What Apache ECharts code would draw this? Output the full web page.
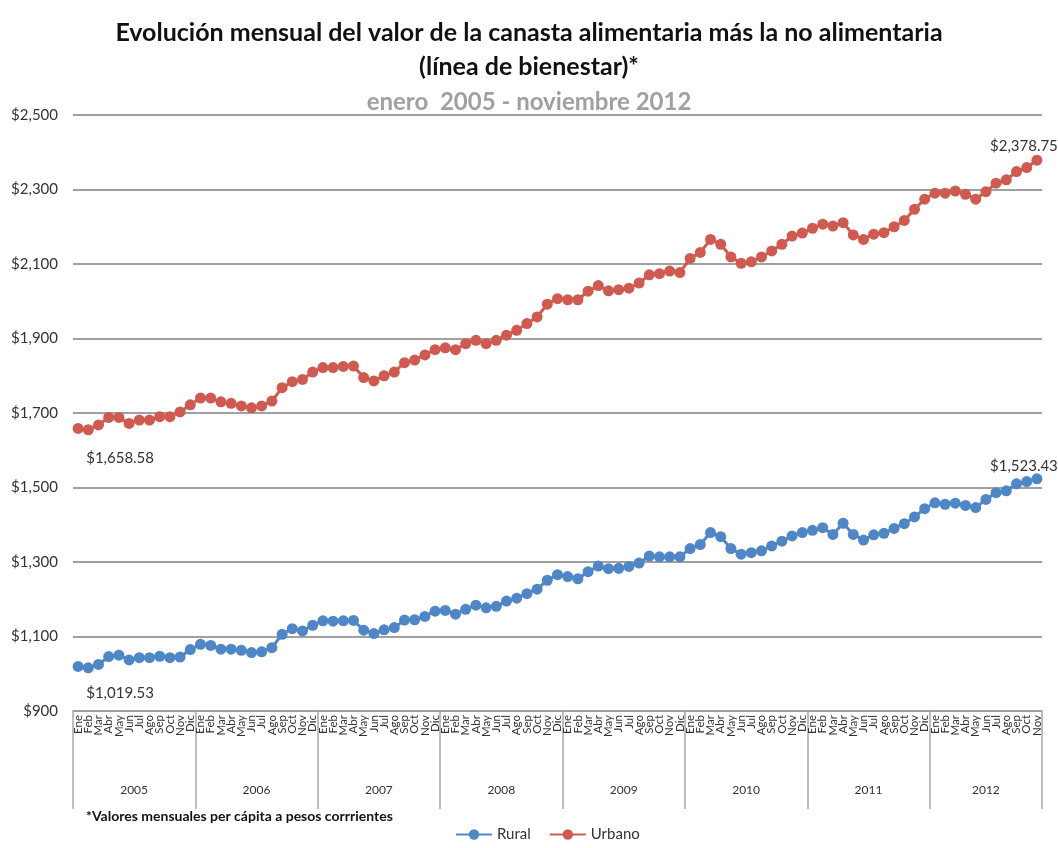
<!DOCTYPE html>
<html>
<head>
<meta charset="utf-8">
<script src="https://cdn.jsdelivr.net/npm/echarts@6/dist/echarts.min.js"></script>
<style>
  html, body { margin: 0; padding: 0; background: #fff; }
  #main { width: 1058px; height: 848px; }
</style>
</head>
<body>
<div id="main"></div>
<script>
var months = ["Ene", "Feb", "Mar", "Abr", "May", "Jun", "Jul", "Ago", "Sep", "Oct", "Nov", "Dic"];
var years = ["2005", "2006", "2007", "2008", "2009", "2010", "2011", "2012"];

var rural = [
  1019.53, 1016, 1025, 1046, 1050, 1037, 1043, 1043, 1047, 1043, 1045, 1065,
  1079, 1076, 1066, 1066, 1063, 1057, 1059, 1070, 1106, 1121, 1115, 1130,
  1142, 1141, 1142, 1143, 1117, 1108, 1118, 1124, 1144, 1145, 1154, 1168,
  1170, 1160, 1173, 1184, 1177, 1181, 1195, 1203, 1215, 1227, 1251, 1266,
  1261, 1255, 1274, 1289, 1282, 1283, 1288, 1297, 1316, 1314, 1314, 1314,
  1336, 1347, 1379, 1368, 1336, 1321, 1325, 1330, 1343, 1356, 1370, 1379,
  1385, 1392, 1374, 1404, 1374, 1359, 1373, 1377, 1390, 1403, 1421, 1443,
  1459, 1455, 1458, 1452, 1446, 1468, 1486, 1491, 1510, 1516, 1523.43
];

var urbano = [
  1658.58, 1655, 1668, 1688, 1688, 1672, 1681, 1681, 1690, 1690, 1703, 1722,
  1740, 1740, 1730, 1726, 1719, 1714, 1719, 1732, 1768, 1784, 1790, 1810,
  1822, 1822, 1825, 1826, 1795, 1786, 1800, 1810, 1835, 1842, 1856, 1870,
  1875, 1870, 1886, 1895, 1886, 1895, 1909, 1922, 1940, 1958, 1992, 2007,
  2004, 2004, 2027, 2042, 2028, 2031, 2035, 2049, 2071, 2074, 2081, 2077,
  2115, 2131, 2166, 2153, 2119, 2102, 2106, 2119, 2135, 2153, 2175, 2183,
  2196, 2207, 2202, 2211, 2178, 2166, 2180, 2184, 2200, 2217, 2247, 2274,
  2290, 2290, 2296, 2287, 2274, 2294, 2317, 2326, 2348, 2359, 2378.75
];

var FONT = "Lato";
var monthCats = [];
var yearCats = [];
for (var i = 0; i < rural.length; i++) {
  monthCats.push(months[i % 12]);
  yearCats.push(years[Math.floor(i / 12)]);
}

function money(v, dec) {
  return "$" + v.toLocaleString("en-US", { minimumFractionDigits: dec, maximumFractionDigits: dec });
}

// first and last point get a value label
function withEndLabels(values, firstOffset, lastOffset) {
  var last = values.length - 1;
  return values.map(function (v, i) {
    if (i === 0) {
      return { value: v, label: { show: true, position: "bottom", offset: firstOffset } };
    }
    if (i === last) {
      return { value: v, label: { show: true, position: "top", offset: lastOffset } };
    }
    return v;
  });
}

var myChart = echarts.init(document.getElementById("main"));

var labelStyle = {
  fontFamily: FONT,
  fontSize: 15,
  color: "#333",
  formatter: function (p) { return money(p.value, 2); }
};

var option = {
  backgroundColor: "#fff",
  animation: false,
  title: {
    text: "Evolución mensual del valor de la canasta alimentaria más la no alimentaria\n(línea de bienestar)*",
    subtext: "enero  2005 - noviembre 2012",
    left: "center",
    top: 11,
    itemGap: 5,
    textStyle: { fontFamily: FONT, fontSize: 25, fontWeight: "bold", color: "#111", lineHeight: 34 },
    subtextStyle: { fontFamily: FONT, fontSize: 24, fontWeight: "bold", color: "#a0a0a0", lineHeight: 26 }
  },
  legend: {
    bottom: 1,
    left: 450,
    itemWidth: 36,
    itemHeight: 13,
    itemGap: 18,
    textStyle: { fontFamily: FONT, fontSize: 15, color: "#333" },
    data: ["Rural", "Urbano"]
  },
  graphic: [{
    type: "text",
    left: 86,
    top: 809,
    style: { text: "*Valores mensuales per cápita a pesos corrrientes", font: "bold 14px Lato", fill: "#111" }
  }],
  grid: { left: 73, right: 16, top: 115, bottom: 137 },
  xAxis: [
    {
      type: "category",
      data: monthCats,
      boundaryGap: true,
      axisLine: { lineStyle: { color: "#a0a0a0", width: 1.5 } },
      axisTick: {
        show: true,
        length: 98,
        interval: function (index) { return index % 12 === 0; },
        lineStyle: { color: "#a8a8a8", width: 1.5 }
      },
      axisLabel: {
        interval: 0,
        rotate: 90,
        margin: 4,
        fontFamily: FONT,
        fontSize: 11.5,
        color: "#333"
      }
    },
    {
      type: "category",
      data: yearCats,
      position: "bottom",
      boundaryGap: true,
      axisLine: { show: false },
      axisTick: { show: false },
      axisLabel: {
        interval: function (index) { return index % 12 === 5; },
        margin: 73,
        color: "#333",
        formatter: function (value, index) {
          return index < 84 ? "{f|" + value + "}" : "{n|" + value + "}";
        },
        rich: {
          f: { padding: [0, 0, 0, 10], fontFamily: FONT, fontSize: 12, color: "#333" },
          n: { fontFamily: FONT, fontSize: 12, color: "#333" }
        }
      }
    }
  ],
  yAxis: {
    type: "value",
    min: 900,
    max: 2500,
    interval: 200,
    axisLine: { show: false },
    axisTick: { show: false },
    axisLabel: {
      margin: 15,
      fontFamily: FONT,
      fontSize: 15,
      color: "#333",
      formatter: function (v) { return money(v, 0); }
    },
    splitLine: { lineStyle: { color: "#a0a0a0", width: 2 } }
  },
  series: [
    {
      name: "Rural",
      type: "line",
      xAxisIndex: 0,
      data: withEndLabels(rural, [42, 9], [-13, 5]),
      symbol: "circle",
      symbolSize: 11,
      color: "#4F87C6",
      lineStyle: { width: 3, color: "#4F87C6" },
      itemStyle: { color: "#4F87C6" },
      label: labelStyle
    },
    {
      name: "Urbano",
      type: "line",
      xAxisIndex: 0,
      data: withEndLabels(urbano, [42, 12], [-13, 4]),
      symbol: "circle",
      symbolSize: 11,
      color: "#CF5A50",
      lineStyle: { width: 3, color: "#CF5A50" },
      itemStyle: { color: "#CF5A50" },
      label: labelStyle
    }
  ]
};

myChart.setOption(option);
</script>
</body>
</html>
